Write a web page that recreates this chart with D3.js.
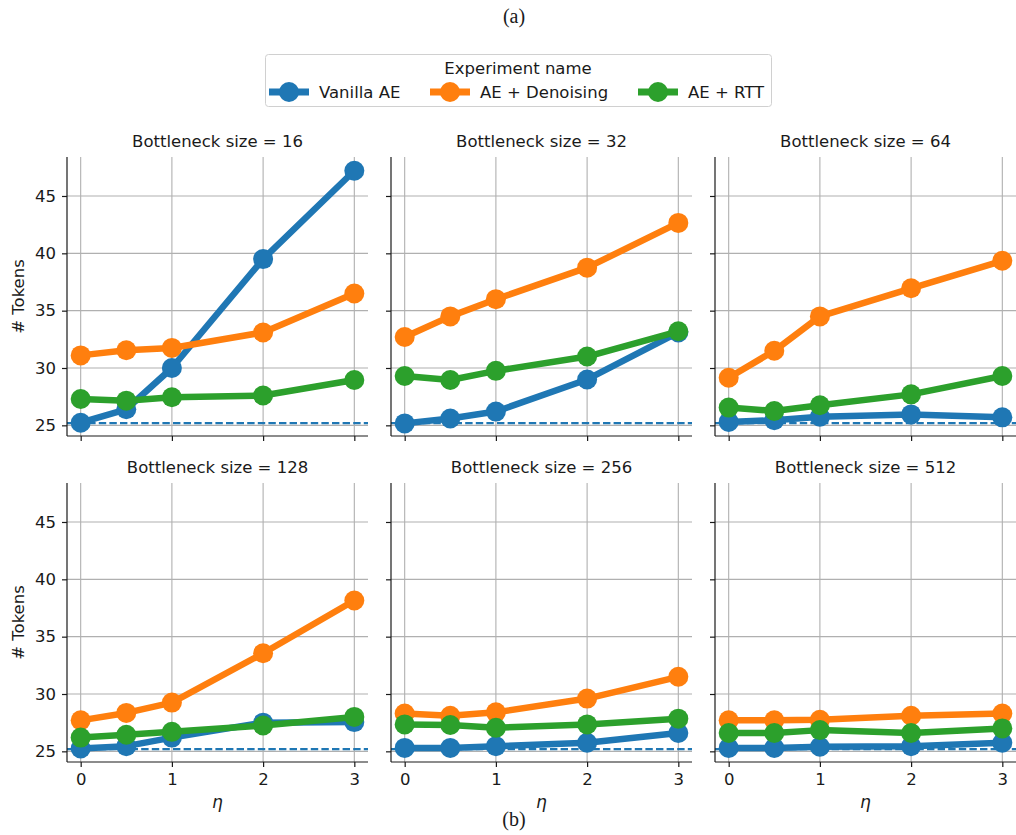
<!DOCTYPE html>
<html>
<head>
<meta charset="utf-8">
<script src="https://cdn.jsdelivr.net/npm/d3@7"></script>
<style>
  body { margin: 0; background: #fff; }
  svg { display: block; }
  text { font-family: "DejaVu Sans", sans-serif; fill: #1a1a1a; }
</style>
</head>
<body>
<svg id="chart" width="1016" height="835"></svg>
<script>
// ---- data ----
const etas = [0, 0.5, 1, 2, 3];
const bottlenecks = [16, 32, 64, 128, 256, 512];
const seriesNames = ["Vanilla AE", "AE + Denoising", "AE + RTT"];
const seriesColors = ["#1f77b4", "#ff7f0e", "#2ca02c"];
const baseline = 25.2;
const yTicks = [25, 30, 35, 40, 45];
const xTicks = [0, 1, 2, 3];

// values per bottleneck size, per series (Vanilla, Denoising, RTT)
const vanillaAE = [
  [25.23, 26.4, 30.0, 39.5, 47.2],
  [25.17, 25.6, 26.2, 29.0, 33.1],
  [25.3, 25.45, 25.75, 25.95, 25.7],
  [25.25, 25.45, 26.2, 27.5, 27.55],
  [25.3, 25.3, 25.45, 25.75, 26.6],
  [25.3, 25.3, 25.4, 25.45, 25.75]
];
const aeDenoising = [
  [31.1, 31.55, 31.75, 33.1, 36.5],
  [32.7, 34.5, 36.0, 38.75, 42.65],
  [29.15, 31.5, 34.5, 36.95, 39.35],
  [27.7, 28.35, 29.25, 33.55, 38.15],
  [28.3, 28.1, 28.4, 29.6, 31.5],
  [27.7, 27.7, 27.75, 28.1, 28.3]
];
const aeRTT = [
  [27.3, 27.15, 27.45, 27.6, 28.95],
  [29.3, 28.95, 29.75, 31.0, 33.2],
  [26.55, 26.25, 26.75, 27.7, 29.3],
  [26.2, 26.45, 26.7, 27.25, 28.0],
  [27.35, 27.3, 27.05, 27.35, 27.85],
  [26.6, 26.6, 26.85, 26.6, 27.0]
];
const allSeries = [vanillaAE, aeDenoising, aeRTT];

// ---- layout ----
const svg = d3.select("#chart");
const colLeft = [67, 391, 715];
const rowTop = [157, 483];
const panelW = 301, panelH = 279;
const gridColor = "#b0b0b0";
const fs = 16.5;

const x = d3.scaleLinear().domain([-0.15, 3.15]).range([0, panelW]);
const y = d3.scaleLinear().domain([24.07, 48.4]).range([panelH, 0]);
const line = d3.line().x((d, i) => x(etas[i])).y(d => y(d));

bottlenecks.forEach((b, p) => {
  const r = Math.floor(p / 3), c = p % 3;
  const g = svg.append("g").attr("transform", `translate(${colLeft[c]},${rowTop[r]})`);

  // grid
  g.append("g").selectAll("line.vg").data(xTicks).join("line")
    .attr("x1", d => x(d)).attr("x2", d => x(d)).attr("y1", 0).attr("y2", panelH)
    .attr("stroke", gridColor).attr("stroke-width", 1.1);
  g.append("g").selectAll("line.hg").data(yTicks).join("line")
    .attr("y1", d => y(d)).attr("y2", d => y(d)).attr("x1", 0).attr("x2", panelW)
    .attr("stroke", gridColor).attr("stroke-width", 1.1);

  // baseline dashed
  g.append("line")
    .attr("x1", 0).attr("x2", panelW).attr("y1", y(baseline)).attr("y2", y(baseline))
    .attr("stroke", seriesColors[0]).attr("stroke-width", 2.2)
    .attr("stroke-dasharray", "7.4,3.2");

  // series
  allSeries.forEach((s, si) => {
    const vals = s[p];
    g.append("path").datum(vals)
      .attr("d", line).attr("fill", "none")
      .attr("stroke", seriesColors[si]).attr("stroke-width", 6.5)
      .attr("stroke-linejoin", "round").attr("stroke-linecap", "butt");
    g.append("g").selectAll("circle").data(vals).join("circle")
      .attr("cx", (d, i) => x(etas[i])).attr("cy", d => y(d)).attr("r", 10)
      .attr("fill", seriesColors[si]);
  });

  // axes
  const xAxis = d3.axisBottom(x).tickValues(xTicks).tickSize(5).tickPadding(6)
    .tickFormat(r === 1 ? d3.format("d") : () => "");
  const xa = g.append("g").attr("transform", `translate(0,${panelH})`).call(xAxis);
  const yAxis = d3.axisLeft(y).tickValues(yTicks).tickSize(5).tickPadding(6)
    .tickFormat(c === 0 ? d3.format("d") : () => "");
  const ya = g.append("g").call(yAxis);
  [xa, ya].forEach(a => {
    a.select(".domain").attr("stroke", "#1a1a1a").attr("stroke-width", 1.2)
      .attr("d", a === xa ? `M0,0H${panelW}` : `M0,0V${panelH}`);
    a.selectAll(".tick line").attr("stroke", "#1a1a1a").attr("stroke-width", 1.2);
    a.selectAll(".tick text").attr("font-size", fs).attr("fill", "#1a1a1a")
      .attr("font-family", "DejaVu Sans");
  });

  // title
  g.append("text").attr("x", panelW / 2).attr("y", -10)
    .attr("text-anchor", "middle").attr("font-size", fs)
    .text(`Bottleneck size = ${b}`);

  if (c === 0) {
    g.append("text")
      .attr("transform", `translate(-43,${panelH / 2}) rotate(-90)`)
      .attr("text-anchor", "middle").attr("font-size", fs)
      .text("# Tokens");
  }
  if (r === 1) {
    g.append("text").attr("x", panelW / 2).attr("y", panelH + 46)
      .attr("text-anchor", "middle").attr("font-size", 17)
      .attr("font-style", "italic").text("η");
  }
});

// ---- legend ----
const lg = svg.append("g");
lg.append("rect").attr("x", 265.5).attr("y", 54.5).attr("width", 506).attr("height", 52)
  .attr("rx", 3).attr("fill", "#fff").attr("stroke", "#d0d0d0").attr("stroke-width", 1);
lg.append("text").attr("x", 518).attr("y", 74).attr("text-anchor", "middle")
  .attr("font-size", fs).text("Experiment name");
const legX = [269, 430, 638];
seriesNames.forEach((n, i) => {
  lg.append("line").attr("x1", legX[i]).attr("x2", legX[i] + 40).attr("y1", 92).attr("y2", 92)
    .attr("stroke", seriesColors[i]).attr("stroke-width", 7);
  lg.append("circle").attr("cx", legX[i] + 20).attr("cy", 92).attr("r", 10).attr("fill", seriesColors[i]);
  lg.append("text").attr("x", legX[i] + 50).attr("y", 98).attr("font-size", fs).text(n);
});

// ---- captions ----
svg.append("text").attr("x", 514).attr("y", 23).attr("text-anchor", "middle")
  .style("font-family", "Liberation Serif").attr("font-size", 20).text("(a)");
svg.append("text").attr("x", 514).attr("y", 826).attr("text-anchor", "middle")
  .style("font-family", "Liberation Serif").attr("font-size", 20).text("(b)");
</script>
</body>
</html>
